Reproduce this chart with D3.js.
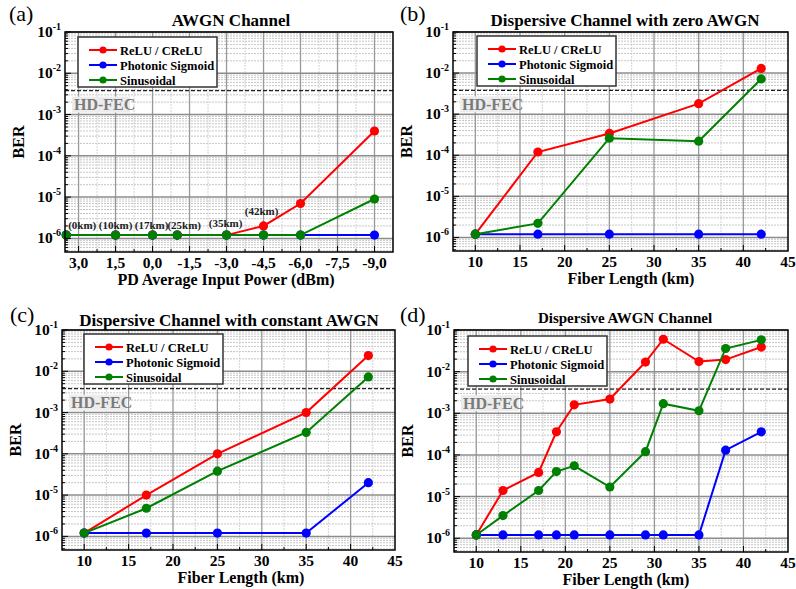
<!DOCTYPE html>
<html>
<head>
<meta charset="utf-8">
<script src="https://cdn.jsdelivr.net/npm/d3@7/dist/d3.min.js"></script>
<style>
  html, body { margin: 0; padding: 0; background: #fff; }
</style>
</head>
<body>
<div id="chart"></div>
<script>
///// DATA
const seriesNames = ['ReLU / CReLU', 'Photonic Sigmoid', 'Sinusoidal'];
const berTicks = [1e-6, 1e-5, 1e-4, 1e-3, 1e-2, 1e-1];
const hdFec = 3.8e-3;

// (a) AWGN channel
const powerA = [3.5, 1.5, 0.0, -1.0, -3.0, -4.5, -6.0, -9.0];
const reluA = [1.2e-6, 1.2e-6, 1.2e-6, 1.2e-6, 1.2e-6, 2.0e-6, 7.0e-6, 4.0e-4];
const sigmoidA = [1.2e-6, 1.2e-6, 1.2e-6, 1.2e-6, 1.2e-6, 1.2e-6, 1.2e-6, 1.2e-6];
const sinA = [1.2e-6, 1.2e-6, 1.2e-6, 1.2e-6, 1.2e-6, 1.2e-6, 1.2e-6, 9.0e-6];
const kmLabelsA = ['(0km)', '(10km)', '(17km)', '(25km)', '(35km)', '(42km)'];
const powerTicks = [3.0, 1.5, 0.0, -1.5, -3.0, -4.5, -6.0, -7.5, -9.0];

// (b) dispersive, zero AWGN
const lengthB = [10, 17, 25, 35, 42];
const reluB = [1.2e-6, 1.2e-4, 3.4e-4, 1.8e-3, 1.3e-2];
const sigmoidB = [1.2e-6, 1.2e-6, 1.2e-6, 1.2e-6, 1.2e-6];
const sinB = [1.2e-6, 2.2e-6, 2.6e-4, 2.2e-4, 7.2e-3];

// (c) dispersive, constant AWGN
const lengthC = [10, 17, 25, 35, 42];
const reluC = [1.2e-6, 1.0e-5, 1.0e-4, 1.0e-3, 2.4e-2];
const sigmoidC = [1.2e-6, 1.2e-6, 1.2e-6, 1.2e-6, 2.0e-5];
const sinC = [1.2e-6, 4.8e-6, 3.8e-5, 3.3e-4, 7.3e-3];

// (d) dispersive AWGN
const lengthD = [10, 13, 17, 19, 21, 25, 29, 31, 35, 38, 42];
const reluD = [1.2e-6, 1.4e-5, 3.8e-5, 3.6e-4, 1.6e-3, 2.2e-3, 1.7e-2, 6.0e-2, 1.75e-2, 1.95e-2, 3.9e-2];
const sigmoidD = [1.2e-6, 1.2e-6, 1.2e-6, 1.2e-6, 1.2e-6, 1.2e-6, 1.2e-6, 1.2e-6, 1.2e-6, 1.3e-4, 3.6e-4];
const sinD = [1.2e-6, 3.5e-6, 1.4e-5, 4.0e-5, 5.5e-5, 1.7e-5, 1.2e-4, 1.7e-3, 1.15e-3, 3.6e-2, 5.8e-2];

const lengthTicks = [10, 15, 20, 25, 30, 35, 40, 45];

const COLORS = ['#ff0000', '#0000ff', '#008000'];
const SERIF = "'Liberation Serif', 'Times New Roman', Times, serif";

///// SVG
const svg = d3.select('#chart').append('svg')
    .attr('width', 796)
    .attr('height', 589)
    .attr('font-family', SERIF);

///// PANEL BUILDER
class BerPanel {
    constructor(opts) {
        const vis = this;
        Object.assign(vis, opts);
        vis.init();
    }

    init() {
        const vis = this;
        vis.g = svg.append('g');
        vis.gWIDTH = vis.right - vis.left;
        vis.gHEIGHT = vis.bottom - vis.top;
        vis.g.attr('transform', `translate(${vis.left}, ${vis.top})`);

        // SCALES
        vis.x = d3.scaleLinear().domain(vis.xDomain).range([0, vis.gWIDTH]);
        vis.y = d3.scaleLog().domain([Math.pow(10, -6.33), 0.1]).range([vis.gHEIGHT, 0]);

        vis.drawGrid();
        vis.drawFec();
        vis.drawSeries();
        vis.drawFrame();
        vis.drawLegend();
        vis.drawText();
    }

    txt(sel, size, bold = true) {
        return sel.attr('font-family', SERIF)
            .attr('font-weight', bold ? 'bold' : 'normal')
            .style('font-size', size);
    }

    drawGrid() {
        const vis = this;
        const grid = vis.g.append('g').attr('class', 'grid');

        // MINOR HORIZONTAL (2..9 in each decade)
        const minorY = vis.y.ticks().filter(d => !berTicks.some(t => Math.abs(t - d) / t < 1e-6));
        grid.selectAll('.minor-y')
            .data(minorY)
            .enter().append('line')
            .attr('x1', 0).attr('x2', vis.gWIDTH)
            .attr('y1', d => vis.y(d)).attr('y2', d => vis.y(d))
            .attr('stroke', '#b8b8b8')
            .attr('stroke-width', 0.8)
            .attr('stroke-dasharray', '2,1');

        // MINOR VERTICAL
        const step = vis.xTicks[1] - vis.xTicks[0];
        const minorX = [];
        vis.xTicks.forEach(t => minorX.push(t + step / 2));
        minorX.push(vis.xTicks[0] - step / 2);
        const [d0, d1] = d3.extent(vis.xDomain);
        grid.selectAll('.minor-x')
            .data(minorX.filter(d => d > d0 + 1e-6 && d < d1 - 1e-6))
            .enter().append('line')
            .attr('x1', d => vis.x(d)).attr('x2', d => vis.x(d))
            .attr('y1', 0).attr('y2', vis.gHEIGHT)
            .attr('stroke', '#c8c8c8')
            .attr('stroke-width', 0.8)
            .attr('stroke-dasharray', '2,1');

        // MAJOR VERTICAL
        grid.selectAll('.major-x')
            .data(vis.xTicks.filter(d => d > d0 + 1e-6 && d < d1 - 1e-6))
            .enter().append('line')
            .attr('x1', d => vis.x(d)).attr('x2', d => vis.x(d))
            .attr('y1', 0).attr('y2', vis.gHEIGHT)
            .attr('stroke', '#999')
            .attr('stroke-width', 1.3);

        // MAJOR HORIZONTAL
        grid.selectAll('.major-y')
            .data(berTicks)
            .enter().append('line')
            .attr('x1', 0).attr('x2', vis.gWIDTH)
            .attr('y1', d => vis.y(d)).attr('y2', d => vis.y(d))
            .attr('stroke', '#8c8c8c')
            .attr('stroke-width', 1.5);
    }

    drawFec() {
        const vis = this;
        const yF = vis.y(hdFec);
        vis.g.append('line')
            .attr('x1', 0).attr('x2', vis.gWIDTH)
            .attr('y1', yF).attr('y2', yF)
            .attr('stroke', '#222')
            .attr('stroke-width', 1.2)
            .attr('stroke-dasharray', '4,2');

        vis.g.append('rect')
            .attr('x', 7).attr('y', yF + 6)
            .attr('width', 58).attr('height', 16)
            .attr('fill', '#ececec');

        vis.txt(vis.g.append('text'), '16px')
            .attr('x', 9).attr('y', yF + 19.5)
            .attr('fill', '#7a7a7a')
            .text('HD-FEC');
    }

    drawSeries() {
        const vis = this;
        const line = d3.line()
            .x(d => vis.x(d[0]))
            .y(d => vis.y(d[1]));

        vis.series.forEach((vals, s) => {
            const pts = vis.xs.map((xv, i) => [xv, vals[i]]);
            const sg = vis.g.append('g');
            sg.append('path')
                .datum(pts)
                .attr('d', line)
                .attr('fill', 'none')
                .attr('stroke', COLORS[s])
                .attr('stroke-width', 2);
            sg.selectAll('circle')
                .data(pts)
                .enter().append('circle')
                .attr('cx', d => vis.x(d[0]))
                .attr('cy', d => vis.y(d[1]))
                .attr('r', 4.6)
                .attr('fill', COLORS[s]);
        });

        // KM ANNOTATIONS
        if (vis.notes) {
            vis.txt(vis.g.selectAll('.km-note')
                .data(vis.notes.labels)
                .enter().append('text'), '11px')
                .attr('x', (d, i) => vis.x(vis.xs[i]) + vis.notes.dx[i])
                .attr('y', (d, i) => vis.y(vis.notes.base[i]) + vis.notes.dy[i])
                .attr('text-anchor', 'middle')
                .attr('fill', '#222')
                .text(d => d);
        }
    }

    drawFrame() {
        const vis = this;
        const [d0, d1] = d3.extent(vis.xDomain);
        const step = vis.xTicks[1] - vis.xTicks[0];

        // TICKS (INWARD) - X
        const xt = [];
        vis.xTicks.forEach(t => { xt.push([t, 6]); xt.push([t + step / 2, 3]); });
        xt.push([vis.xTicks[0] - step / 2, 3]);
        vis.g.selectAll('.xtick')
            .data(xt.filter(d => d[0] > d0 + 1e-6 && d[0] < d1 - 1e-6))
            .enter().append('line')
            .attr('x1', d => vis.x(d[0])).attr('x2', d => vis.x(d[0]))
            .attr('y1', vis.gHEIGHT).attr('y2', d => vis.gHEIGHT - d[1])
            .attr('stroke', '#000').attr('stroke-width', 1);

        // TICKS (INWARD) - Y
        const yt = vis.y.ticks().map(d => [d, berTicks.some(t => Math.abs(t - d) / t < 1e-6) ? 6 : 3]);
        vis.g.selectAll('.ytick')
            .data(yt)
            .enter().append('line')
            .attr('x1', 0).attr('x2', d => d[1])
            .attr('y1', d => vis.y(d[0])).attr('y2', d => vis.y(d[0]))
            .attr('stroke', '#000').attr('stroke-width', 1);

        // FRAME
        vis.g.append('rect')
            .attr('width', vis.gWIDTH)
            .attr('height', vis.gHEIGHT)
            .attr('fill', 'none')
            .attr('stroke', '#000')
            .attr('stroke-width', 1.5);

        // X TICK LABELS
        vis.txt(vis.g.selectAll('.xlab')
            .data(vis.xTicks)
            .enter().append('text'), '15.5px')
            .attr('x', d => vis.x(d))
            .attr('y', vis.gHEIGHT + 15.5)
            .attr('text-anchor', 'middle')
            .text(d => vis.xFormat(d));

        // Y TICK LABELS
        const ylab = vis.txt(vis.g.selectAll('.ylab')
            .data(berTicks)
            .enter().append('text'), '15.5px')
            .attr('x', -4)
            .attr('y', d => vis.y(d) + 5)
            .attr('text-anchor', 'end');
        ylab.append('tspan').text('10');
        ylab.append('tspan')
            .attr('dy', -7)
            .style('font-size', '10px')
            .text(d => Math.round(Math.log10(d)));
    }

    drawLegend() {
        const vis = this;
        const lg = vis.g.append('g')
            .attr('transform', `translate(${vis.legendPos[0]}, ${vis.legendPos[1]})`);
        lg.append('rect')
            .attr('width', 139).attr('height', 50)
            .attr('fill', '#fff')
            .attr('stroke', '#333')
            .attr('stroke-width', 1.5);
        seriesNames.forEach((name, i) => {
            const yy = 13 + i * 15;
            lg.append('line')
                .attr('x1', 11).attr('x2', 39)
                .attr('y1', yy).attr('y2', yy)
                .attr('stroke', COLORS[i]).attr('stroke-width', 2);
            lg.append('circle')
                .attr('cx', 25).attr('cy', yy).attr('r', 3.6)
                .attr('fill', COLORS[i]);
            vis.txt(lg.append('text'), '12.5px')
                .attr('x', 42).attr('y', yy + 4.5)
                .text(name);
        });
    }

    drawText() {
        const vis = this;
        // TITLE
        vis.txt(vis.g.append('text'), vis.titleSize)
            .attr('x', vis.titleX - vis.left)
            .attr('y', vis.titleDy)
            .attr('text-anchor', 'middle')
            .text(vis.title);

        // PANEL LETTER
        vis.txt(svg.append('text'), '22px', false)
            .attr('x', vis.letterPos[0])
            .attr('y', vis.letterPos[1])
            .text(vis.letter);

        // X AXIS LABEL
        vis.txt(vis.g.append('text'), '16px')
            .attr('x', vis.xLabelX - vis.left)
            .attr('y', vis.gHEIGHT + 32.5)
            .attr('text-anchor', 'middle')
            .text(vis.xLabel);

        // Y AXIS LABEL
        vis.txt(vis.g.append('text'), '16px')
            .attr('transform', `translate(-41, ${vis.gHEIGHT / 2}) rotate(-90)`)
            .attr('text-anchor', 'middle')
            .text('BER');
    }
}

const fmtPower = d => d3.format('.1f')(d).replace('.', ',').replace('\u2212', '-');

new BerPanel({
    left: 65, right: 393, top: 32, bottom: 252,
    xDomain: [3.55, -9.75], xTicks: powerTicks, xFormat: fmtPower,
    xs: powerA, series: [reluA, sigmoidA, sinA],
    notes: {
        labels: kmLabelsA,
        base: [1.2e-6, 1.2e-6, 1.2e-6, 1.2e-6, 1.2e-6, 2.0e-6],
        dx: [16, 0, -1, 7, -1, -2],
        dy: [-6, -6, -6, -6, -8, -11]
    },
    legendPos: [13, 5],
    title: 'AWGN Channel', titleX: 231, titleDy: -6, titleSize: '17px',
    letter: '(a)', letterPos: [9, 21],
    xLabel: 'PD Average Input Power (dBm)', xLabelX: 226
});

new BerPanel({
    left: 453, right: 788, top: 32, bottom: 251,
    xDomain: [7.5, 45], xTicks: lengthTicks, xFormat: d => d,
    xs: lengthB, series: [reluB, sigmoidB, sinB],
    legendPos: [24, 4],
    title: 'Dispersive Channel with zero AWGN', titleX: 625, titleDy: -6, titleSize: '17px',
    letter: '(b)', letterPos: [400, 21],
    xLabel: 'Fiber Length (km)', xLabelX: 631
});

new BerPanel({
    left: 62, right: 395, top: 330, bottom: 550,
    xDomain: [7.5, 45], xTicks: lengthTicks, xFormat: d => d,
    xs: lengthC, series: [reluC, sigmoidC, sinC],
    legendPos: [22, 4],
    title: 'Dispersive Channel with constant AWGN', titleX: 229, titleDy: -4, titleSize: '17px',
    letter: '(c)', letterPos: [10, 322],
    xLabel: 'Fiber Length (km)', xLabelX: 241
});

new BerPanel({
    left: 454, right: 788, top: 330, bottom: 552,
    xDomain: [7.5, 45], xTicks: lengthTicks, xFormat: d => d,
    xs: lengthD, series: [reluD, sigmoidD, sinD],
    legendPos: [14, 6],
    title: 'Dispersive AWGN Channel', titleX: 625, titleDy: -7, titleSize: '15px',
    letter: '(d)', letterPos: [400, 322],
    xLabel: 'Fiber Length (km)', xLabelX: 626
});
</script>
</body>
</html>
